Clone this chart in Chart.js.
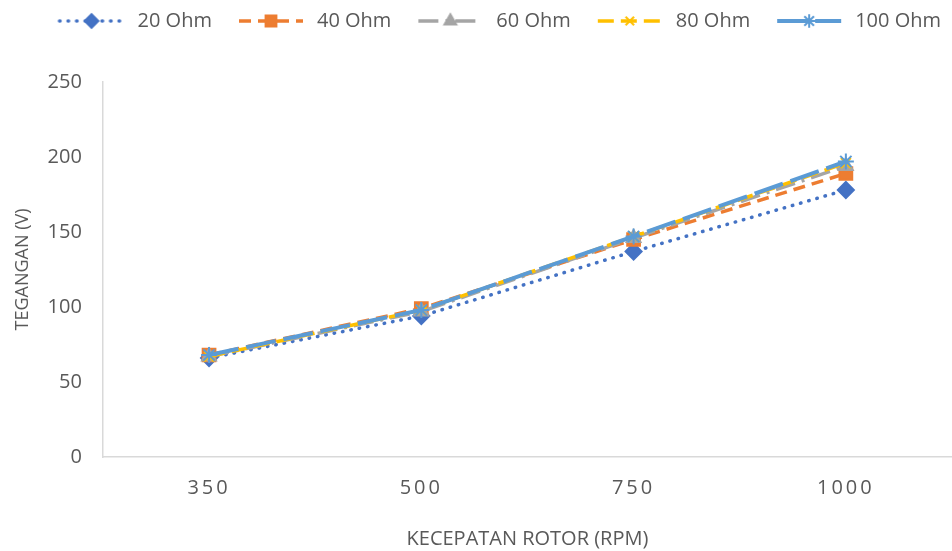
<!DOCTYPE html>
<html>
<head>
<meta charset="UTF-8">
<title>Tegangan vs Kecepatan Rotor</title>
<script src="https://cdn.jsdelivr.net/npm/chart.js"></script>
<style>
  html, body { margin: 0; padding: 0; background: #fff; }
  #wrap { width: 952px; height: 551px; }
</style>
</head>
<body>
<div id="wrap"><canvas id="myChart"></canvas></div>
<script>
  // data
  const rpm = ['350', '500', '750', '1000'];
  const ohm20  = [66, 94, 137, 178];
  const ohm40  = [68, 99, 145, 189];
  const ohm60  = [67, 97, 146, 194];
  const ohm80  = [67, 98, 147, 196];
  const ohm100 = [68, 98, 147, 197];
  const seriesNames = ['20 Ohm', '40 Ohm', '60 Ohm', '80 Ohm', '100 Ohm'];

  const fontFam = "'Open Sans', 'Noto Sans', sans-serif";
  const textCol = '#595959';

  const styles = [
    { color: '#4472C4', dash: [0.5, 8], width: 3.5, cap: 'round', point: 'rectRot', r: 8 },
    { color: '#ED7D31', dash: [12, 7], width: 3.5, cap: 'butt', point: 'rect', r: 9 },
    { color: '#A5A5A5', dash: [20, 7, 3, 7], width: 3.5, cap: 'butt', point: 'triangle', r: 8 },
    { color: '#FFC000', dash: [16, 7], width: 3.5, cap: 'butt', point: 'crossRot', r: 7 },
    { color: '#5B9BD5', dash: [30, 8], width: 4, cap: 'butt', point: 'star', r: 8 }
  ];

  // legend icon: line with the marker in the middle, blank on the left for spacing
  const ICON_W = 84;
  function legendIcon(s) {
    const c = document.createElement('canvas');
    c.width = ICON_W; c.height = 20;
    const g = c.getContext('2d');
    g.strokeStyle = s.color;
    g.fillStyle = s.color;
    g.lineWidth = s.width;
    g.lineCap = s.cap;
    g.setLineDash(s.dash);
    g.beginPath(); g.moveTo(16, 10); g.lineTo(80, 10); g.stroke();
    g.setLineDash([]);
    g.lineWidth = 2;
    Chart.helpers.drawPoint(g, { pointStyle: s.point, radius: s.r * 0.85, rotation: 0, borderWidth: 2 }, 48, 10);
    return c;
  }

  const allValues = [ohm20, ohm40, ohm60, ohm80, ohm100];
  const datasets = allValues.map((vals, i) => {
    const s = styles[i];
    return {
      label: seriesNames[i],
      data: vals,
      borderColor: s.color,
      backgroundColor: s.color,
      borderWidth: s.width,
      borderDash: s.dash,
      borderCapStyle: s.cap,
      pointStyle: s.point,
      pointRadius: s.r,
      pointBorderWidth: 2,
      pointBackgroundColor: s.color,
      pointBorderColor: s.color,
      tension: 0,
      order: 5 - i
    };
  });

  const icons = styles.map(legendIcon);

  // extra room under the legend + spaced-out x tick labels
  const tweaks = {
    id: 'tweaks',
    beforeLayout(chart) {
      const lg = chart.legend;
      if (lg && !lg._patched) {
        const fit = lg.fit;
        lg.fit = function () { fit.call(this); this.height += 41; };
        lg._patched = true;
      }
      const sx = chart.scales.x;
      if (sx && !sx._patched) {
        const dl = sx.drawLabels;
        sx.drawLabels = function (area) {
          const ctx = this.ctx;
          ctx.save();
          ctx.letterSpacing = '3px';
          dl.call(this, area);
          ctx.restore();
        };
        sx._patched = true;
      }
    }
  };

  const config = {
    type: 'line',
    data: { labels: rpm, datasets: datasets },
    options: {
      responsive: true,
      maintainAspectRatio: false,
      animation: false,
      layout: { autoPadding: false, padding: { left: 6, right: 0, top: 0, bottom: 0 } },
      plugins: {
        legend: {
          display: true,
          position: 'top',
          align: 'end',
          labels: {
            usePointStyle: true,
            pointStyleWidth: ICON_W,
            boxHeight: 20,
            color: textCol,
            font: { family: fontFam, size: 20 },
            padding: 11,
            sort: (a, b) => a.datasetIndex - b.datasetIndex,
            generateLabels: (chart) => chart.data.datasets.map((ds, i) => ({
              text: ds.label,
              pointStyle: icons[i],
              fillStyle: ds.borderColor,
              strokeStyle: ds.borderColor,
              lineWidth: 0,
              fontColor: textCol,
              hidden: false,
              datasetIndex: i
            }))
          }
        },
        tooltip: { enabled: false }
      },
      scales: {
        x: {
          offset: true,
          grid: { display: false },
          border: { display: true, color: '#d9d9d9', width: 1.5 },
          ticks: { color: textCol, font: { family: fontFam, size: 20 }, padding: 11 },
          title: {
            display: true,
            text: 'KECEPATAN ROTOR (RPM)',
            color: textCol,
            font: { family: fontFam, size: 20 },
            padding: { top: 16, bottom: 0 }
          }
        },
        y: {
          min: 0,
          max: 250,
          ticks: { stepSize: 50, color: textCol, font: { family: fontFam, size: 20 }, padding: 13 },
          grid: { display: false },
          border: { display: true, color: '#d9d9d9', width: 1.5 },
          title: {
            display: true,
            text: 'TEGANGAN (V)',
            color: textCol,
            font: { family: fontFam, size: 18 },
            padding: { top: 6, bottom: 1 }
          }
        }
      }
    },
    plugins: [tweaks]
  };

  new Chart(document.getElementById('myChart'), config);
</script>
</body>
</html>
